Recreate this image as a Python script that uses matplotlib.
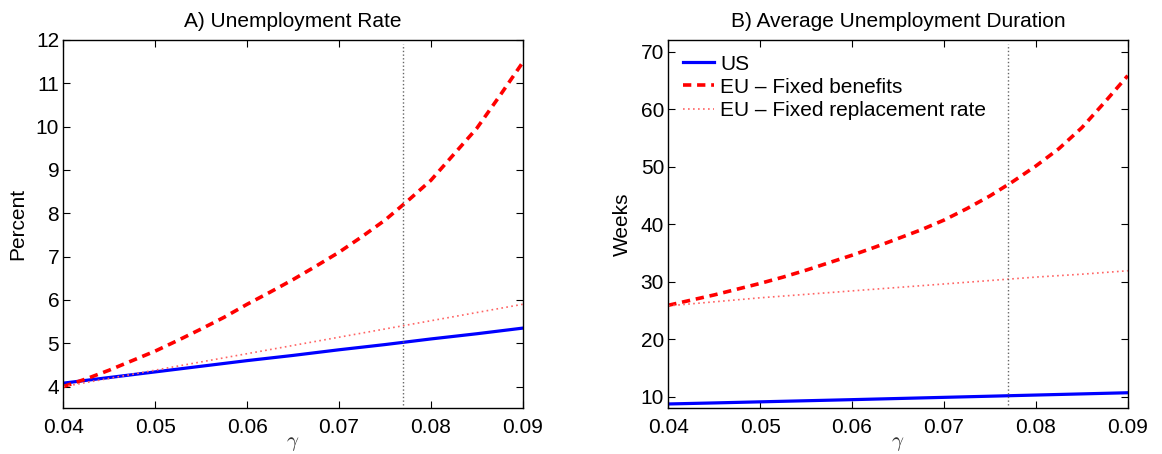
import numpy as np
import matplotlib
matplotlib.use('Agg')
import matplotlib.pyplot as plt

# gamma grid and values
gamma = [0.040, 0.045, 0.050, 0.055, 0.060, 0.065, 0.070, 0.075, 0.080, 0.085, 0.090]
# finer grid for the curved (fixed benefits) series
gamma_fine = [0.0400, 0.0425, 0.0450, 0.0475, 0.0500, 0.0525, 0.0550, 0.0575,
              0.0600, 0.0625, 0.0650, 0.0675, 0.0700, 0.0725, 0.0750, 0.0775,
              0.0800, 0.0825, 0.0850, 0.0875, 0.0900]

# A) unemployment rate, percent
rate_us = [4.08, 4.21, 4.34, 4.47, 4.60, 4.72, 4.85, 4.97, 5.10, 5.22, 5.35]
rate_eu_fb = [4.00, 4.18, 4.38, 4.60, 4.82, 5.07, 5.33, 5.60, 5.90, 6.18, 6.47,
              6.78, 7.10, 7.46, 7.84, 8.29, 8.76, 9.36, 9.96, 10.71, 11.48]
rate_eu_rr = [4.00, 4.19, 4.38, 4.57, 4.76, 4.95, 5.14, 5.33, 5.52, 5.71, 5.90]

# B) average unemployment duration, weeks
dur_us = [8.75, 8.93, 9.12, 9.31, 9.50, 9.70, 9.90, 10.10, 10.30, 10.50, 10.70]
dur_eu_fb = [25.9, 26.8, 27.7, 28.7, 29.7, 30.8, 32.0, 33.3, 34.6, 36.0, 37.5,
             39.0, 40.7, 42.7, 44.9, 47.4, 50.1, 53.1, 56.75, 61.2, 65.8]
dur_eu_rr = [25.8, 26.5, 27.2, 27.8, 28.4, 29.0, 29.6, 30.2, 30.8, 31.3, 31.9]

gamma_mark = 0.077
xticks = [0.04, 0.05, 0.06, 0.07, 0.08, 0.09]

plt.rcParams['font.family'] = ['Liberation Sans', 'DejaVu Sans']
plt.rcParams['mathtext.fontset'] = 'cm'
plt.rcParams['font.size'] = 15

fig = plt.figure(figsize=(11.62, 4.54), dpi=100)
ax1 = fig.add_axes([0.0545, 0.1007, 0.3953, 0.8112])
ax2 = fig.add_axes([0.5751, 0.1007, 0.3954, 0.8112])


def style(ax):
    ax.set_xlim(0.04, 0.09)
    ax.set_xticks(xticks)
    ax.set_xticklabels(['%.2f' % v for v in xticks])
    ax.tick_params(direction='in', top=True, right=True, length=5, width=0.8,
                   labelsize=15)
    ax.tick_params(axis='x', pad=7)
    ax.tick_params(axis='y', pad=3)
    for s in ax.spines.values():
        s.set_linewidth(1.0)
    ax.set_xlabel(r'$\gamma$', fontsize=15, labelpad=-2, color='#333333')
    ax.axvline(gamma_mark, ymin=0.01, ymax=0.99, color='#666666', ls=':', lw=1.0)


def draw(ax, us, fb, rr):
    ax.plot(gamma, us, color='#0000ff', lw=2.3, label='US')
    ax.plot(gamma_fine, fb, color='#ff0000', lw=2.6, ls=(0, (2.3, 1.6)),
            label='EU \u2013 Fixed benefits')
    ax.plot(gamma, rr, color='#ff6464', lw=1.2, ls=(0, (1, 2.0)),
            label='EU \u2013 Fixed replacement rate')


draw(ax1, rate_us, rate_eu_fb, rate_eu_rr)
style(ax1)
ax1.set_ylim(3.5, 12)
ax1.set_yticks(range(4, 13))
ax1.set_ylabel('Percent', labelpad=6)
ax1.set_title('A) Unemployment Rate', fontsize=15, pad=9)

draw(ax2, dur_us, dur_eu_fb, dur_eu_rr)
style(ax2)
ax2.set_ylim(8, 72)
ax2.set_yticks(range(10, 71, 10))
ax2.set_ylabel('Weeks', labelpad=6)
ax2.set_title('B) Average Unemployment Duration', fontsize=15, pad=9)
ax2.legend(loc='upper left', frameon=False, fontsize=15, handlelength=1.5,
           handletextpad=0.3, labelspacing=0.2, borderaxespad=0.5,
           borderpad=0.2)

fig.savefig('out.png', dpi=100)
